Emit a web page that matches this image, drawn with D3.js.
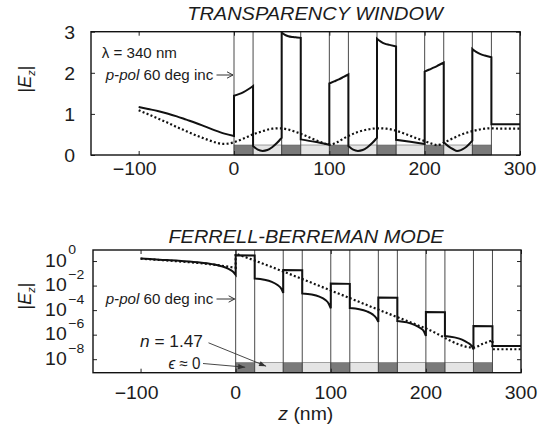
<!DOCTYPE html>
<html>
<head>
<meta charset="utf-8">
<script src="https://cdn.jsdelivr.net/npm/d3@7"></script>
<style>
  body { margin: 0; background: #fff; }
  svg { display: block; }
  text { font-family: "Liberation Sans", Arial, Helvetica, sans-serif; fill: #1c1c1c; }
</style>
</head>
<body>
<svg id="chart" width="538" height="430"></svg>
<script>
// ---- multilayer stack (nm): epsilon-near-zero films alternating with n = 1.47 spacers
const layerEdges = [0, 20, 50, 70, 100, 120, 150, 170, 200, 220, 250, 270];
const layerKinds = ["enz", "glass", "enz", "glass", "enz", "glass", "enz", "glass", "enz", "glass", "enz"];

// ---- axis ticks
const xTicks = [-100, 0, 100, 200, 300];
const xTickLabels = ["\u2212100", "0", "100", "200", "300"];
const twYTicks = [0, 1, 2, 3];
const fbYTicks = [1e0, 1e-2, 1e-4, 1e-6, 1e-8];
const fbYExponents = ["0", "\u22122", "\u22124", "\u22126", "\u22128"];

// ---- transparency window: |Ez| vs z, exact (solid) and effective medium (dotted)
const twSolid = [
  [-100, 1.17], [-90, 1.12], [-80, 1.07], [-70, 1.01], [-60, 0.94], [-50, 0.86], [-40, 0.78],
  [-30, 0.69], [-20, 0.60], [-10, 0.52], [0, 0.46],
  [0, 1.44], [5, 1.48], [10, 1.53], [15, 1.60], [20, 1.68],
  [20, 0.22], [25, 0.13], [30, 0.10], [35, 0.12], [40, 0.19], [45, 0.29], [50, 0.42],
  [50, 2.98], [53, 2.93], [57, 2.89], [62, 2.87], [66, 2.86], [70, 2.85],
  [70, 0.38], [85, 0.32], [100, 0.25],
  [100, 1.74], [105, 1.79], [110, 1.84], [115, 1.90], [120, 1.96],
  [120, 0.22], [125, 0.13], [130, 0.10], [135, 0.12], [140, 0.19], [145, 0.29], [150, 0.42],
  [150, 2.83], [154, 2.76], [158, 2.71], [163, 2.68], [170, 2.64],
  [170, 0.37], [185, 0.32], [200, 0.27],
  [200, 2.03], [205, 2.08], [210, 2.13], [215, 2.19], [220, 2.25],
  [220, 0.31], [225, 0.21], [230, 0.14], [234, 0.10], [238, 0.12], [242, 0.17], [246, 0.25], [250, 0.35],
  [250, 2.58], [254, 2.51], [258, 2.46], [263, 2.42], [270, 2.38],
  [270, 0.75], [300, 0.75]
];
const twDotted = [
  [-100, 1.09], [-90, 0.99], [-80, 0.89], [-70, 0.79], [-60, 0.68], [-50, 0.58], [-40, 0.48],
  [-30, 0.39], [-20, 0.31], [-12, 0.27], [-5, 0.28], [0, 0.31], [10, 0.40], [20, 0.50],
  [30, 0.58], [40, 0.64], [48, 0.65], [55, 0.63], [65, 0.56], [75, 0.47], [85, 0.37],
  [95, 0.28], [101, 0.25], [108, 0.31], [118, 0.44], [130, 0.56], [140, 0.62], [152, 0.65],
  [160, 0.64], [170, 0.59], [180, 0.51], [190, 0.42], [200, 0.34], [208, 0.27], [213, 0.24],
  [220, 0.30], [230, 0.41], [240, 0.51], [250, 0.58], [260, 0.63], [270, 0.65], [280, 0.64], [300, 0.64]
];

// ---- Ferrell-Berreman mode: |Ez| vs z on a log axis
const fbSolid = [
  [-100, 1.6], [-80, 1.3], [-60, 1.07], [-40, 0.79], [-25, 0.56], [-15, 0.38], [-8, 0.24], [-3, 0.14], [0, 0.076],
  [0, 2.95], [20, 2.8],
  [20, 0.037], [30, 0.030], [38, 0.020], [44, 0.011], [48, 5.6e-3], [50, 2.5e-3],
  [50, 0.19], [70, 0.18],
  [70, 2.3e-3], [80, 1.9e-3], [88, 1.26e-3], [94, 7.1e-4], [98, 3.2e-4], [100, 1.4e-4],
  [100, 0.0145], [120, 0.0138],
  [120, 1.5e-4], [130, 1.2e-4], [138, 7.9e-5], [144, 4.5e-5], [148, 2.2e-5], [150, 1.1e-5],
  [150, 1.07e-3], [170, 1.02e-3],
  [170, 1.3e-5], [180, 1.0e-5], [188, 6.3e-6], [194, 3.5e-6], [198, 1.8e-6], [200, 7.9e-7],
  [200, 7.1e-5], [220, 6.8e-5],
  [220, 7.9e-7], [230, 6.0e-7], [238, 4.0e-7], [244, 2.2e-7], [248, 1.26e-7], [250, 6.3e-8],
  [250, 5.0e-6], [270, 4.8e-6],
  [270, 1.2e-7], [300, 1.2e-7]
];
const fbDotted = [
  [-100, 1.55], [-80, 1.22], [-60, 0.94], [-40, 0.70], [-20, 0.47], [-10, 0.37], [0, 0.28],
  [0, 4.0], [20, 1.1], [50, 0.14], [100, 4.0e-3], [150, 1.1e-4], [200, 3.2e-6],
  [250, 8.9e-8], [260, 1.8e-7], [270, 3.5e-7],
  [270, 6.5e-8], [300, 6.5e-8]
];

// ---------------------------------------------------------------------------
const SX = 1.08;            // slight horizontal widening of all glyphs
const svg = d3.select("#chart");

const defs = svg.append("defs");
defs.append("marker").attr("id", "openHead").attr("viewBox", "-7 -5 8 10")
  .attr("markerWidth", 8).attr("markerHeight", 10).attr("markerUnits", "userSpaceOnUse")
  .attr("refX", 0).attr("refY", 0).attr("orient", "auto")
  .append("path").attr("d", "M-6,-3.2 L0,0 L-6,3.2").attr("fill", "none").attr("stroke", "#333").attr("stroke-width", 1);
defs.append("marker").attr("id", "solidHead").attr("viewBox", "-8 -4 9 8")
  .attr("markerWidth", 9).attr("markerHeight", 8).attr("markerUnits", "userSpaceOnUse")
  .attr("refX", 0).attr("refY", 0).attr("orient", "auto")
  .append("path").attr("d", "M-7,-2.6 L0,0 L-7,2.6 Z").attr("fill", "#333");

function addText(parent, x, y, opts) {
  const t = parent.append("text")
    .attr("transform", `translate(${x},${y}) scale(${opts.sx || SX},1)`)
    .attr("font-size", opts.size)
    .attr("text-anchor", opts.anchor || "start");
  if (opts.italic) t.attr("font-style", "italic");
  if (opts.family) t.attr("font-family", opts.family);
  (opts.parts || [{ s: opts.text }]).forEach(p => {
    const ts = t.append("tspan").text(p.s);
    if (p.italic) ts.attr("font-style", "italic");
    if (p.size) ts.attr("font-size", p.size);
    if (p.dy) ts.attr("dy", p.dy);
  });
  return t;
}

// piecewise path: a repeated z marks a jump at an interface (drawn vertically)
function tracePath(pairs, x, y) {
  const pieces = [];
  let cur = [];
  pairs.forEach((p, i) => {
    if (i > 0 && p[0] === pairs[i - 1][0]) { pieces.push(cur); cur = []; }
    cur.push(p);
  });
  pieces.push(cur);
  const gen = d3.line().x(d => x(d[0])).y(d => y(d[1])).curve(d3.curveMonotoneX);
  return pieces.map((pc, i) => { const s = gen(pc); return i ? s.replace(/^M/, "L") : s; }).join("");
}

function drawPanel(cfg) {
  const { box, x, y, yTicks, solid, dotted, id } = cfg;
  const g = svg.append("g");

  defs.append("clipPath").attr("id", id)
    .append("rect").attr("x", box.l).attr("y", box.t).attr("width", box.r - box.l).attr("height", box.b - box.t);

  // layer bands along the bottom of the frame
  const bandH = 10;
  g.append("g").selectAll("rect").data(layerKinds).join("rect")
    .attr("x", (d, i) => x(layerEdges[i]))
    .attr("y", box.b - bandH)
    .attr("width", (d, i) => x(layerEdges[i + 1]) - x(layerEdges[i]))
    .attr("height", bandH)
    .attr("fill", d => d === "enz" ? "#7a7a7a" : "#e4e4e4")
    .attr("stroke", "#666").attr("stroke-width", 0.6);

  // interfaces
  g.append("g").selectAll("line").data(layerEdges).join("line")
    .attr("x1", d => x(d)).attr("x2", d => x(d))
    .attr("y1", box.t).attr("y2", box.b)
    .attr("stroke", "#4a4a4a").attr("stroke-width", 1);

  const plot = g.append("g").attr("clip-path", `url(#${id})`);
  plot.append("path").attr("d", tracePath(dotted, x, y))
    .attr("fill", "none").attr("stroke", "#111").attr("stroke-width", 2.2)
    .attr("stroke-dasharray", "2,2.3");
  plot.append("path").attr("d", tracePath(solid, x, y))
    .attr("fill", "none").attr("stroke", "#111").attr("stroke-width", 2)
    .attr("stroke-linejoin", "miter");

  // inward ticks on all four sides
  const tickG = g.append("g");
  tickG.append("g").attr("transform", `translate(0,${box.b})`)
    .call(d3.axisBottom(x).tickValues(xTicks).tickSize(-4).tickFormat(""));
  tickG.append("g").attr("transform", `translate(0,${box.t})`)
    .call(d3.axisTop(x).tickValues(xTicks).tickSize(-4).tickFormat(""));
  tickG.append("g").attr("transform", `translate(${box.l},0)`)
    .call(d3.axisLeft(y).tickValues(yTicks).tickSize(-4).tickFormat(""));
  tickG.append("g").attr("transform", `translate(${box.r},0)`)
    .call(d3.axisRight(y).tickValues(yTicks).tickSize(-4).tickFormat(""));
  tickG.selectAll(".domain").remove();
  tickG.selectAll("text").remove();
  tickG.selectAll(".tick line").attr("stroke", "#222").attr("stroke-width", 1);

  // frame
  g.append("rect").attr("x", box.l).attr("y", box.t)
    .attr("width", box.r - box.l).attr("height", box.b - box.t)
    .attr("fill", "none").attr("stroke", "#111").attr("stroke-width", 1.4);

  // x tick labels
  xTicks.forEach((v, i) => {
    addText(svg, x(v) + (v < 0 ? -4 : 0), cfg.xLabelBase, { text: xTickLabels[i], size: 18, anchor: "middle" });
  });
  return g;
}

// ---- top panel: transparency window
const twBox = { l: 91, r: 520, t: 31.7, b: 155 };
const xTW = d3.scaleLinear().domain([-150, 300]).range([twBox.l, twBox.r]);
const yTW = d3.scaleLinear().domain([0, 3]).range([twBox.b, twBox.t]);
drawPanel({ id: "clipTW", box: twBox, x: xTW, y: yTW, yTicks: twYTicks, solid: twSolid, dotted: twDotted, xLabelBase: 175 });
twYTicks.forEach(v => addText(svg, 75, yTW(v) + 7.3, { text: String(v), size: 18, anchor: "end" }));

// ---- bottom panel: Ferrell-Berreman mode
const fbBox = { l: 93, r: 521, t: 250, b: 372.7 };
const xFB = d3.scaleLinear().domain([-150, 300]).range([fbBox.l, fbBox.r]);
const yFB = d3.scaleLog().domain([10 ** -9.1, 10 ** 0.9]).range([fbBox.b, fbBox.t]);
drawPanel({ id: "clipFB", box: fbBox, x: xFB, y: yFB, yTicks: fbYTicks, solid: fbSolid, dotted: fbDotted, xLabelBase: 399 });
fbYTicks.forEach((v, i) => {
  addText(svg, 66.7, yFB(v) + 5.8, { text: "10", size: 18, anchor: "end" });
  addText(svg, 68.3, yFB(v) - 6.6, { text: fbYExponents[i], size: 13, anchor: "start" });
});

// ---- titles
addText(svg, 315, 20, { text: "TRANSPARENCY WINDOW", size: 18.5, anchor: "middle", italic: true });
addText(svg, 306, 242.5, { text: "FERRELL-BERREMAN MODE", size: 18.5, anchor: "middle", italic: true });

// ---- axis titles
function yTitle(cx, cy) {
  const t = svg.append("text")
    .attr("transform", `translate(${cx},${cy}) rotate(-90)`)
    .attr("font-size", 18).attr("text-anchor", "middle");
  t.append("tspan").text("|");
  t.append("tspan").attr("font-style", "italic").text("E");
  t.append("tspan").attr("font-style", "italic").attr("font-size", 11).attr("dy", 4).text("z");
  t.append("tspan").attr("dy", -4).text("|");
}
yTitle(31, 79);
yTitle(31, 296);

addText(svg, 305.8, 419.5, { size: 18, anchor: "middle", parts: [{ s: "z", italic: true }, { s: " (nm)" }] });

// ---- annotations
addText(svg, 101.7, 58.3, { text: "\u03bb = 340 nm", size: 14 });

function incidenceNote(yBase, yArrow, x0) {
  addText(svg, 105.7, yBase, { size: 14, parts: [{ s: "p-pol", italic: true }, { s: " 60 deg inc" }] });
  svg.append("line").attr("x1", 216.5).attr("x2", x0 - 1).attr("y1", yArrow).attr("y2", yArrow)
    .attr("stroke", "#333").attr("stroke-width", 1).attr("marker-end", "url(#openHead)");
}
incidenceNote(80, 75, xTW(0));
incidenceNote(304, 299, xFB(0));

addText(svg, 140, 346.7, { size: 16, parts: [{ s: "n", italic: true }, { s: " = 1.47" }] });
svg.append("line").attr("x1", 208.5).attr("y1", 342.8).attr("x2", xFB(32)).attr("y2", fbBox.b - 6.5)
  .attr("stroke", "#333").attr("stroke-width", 0.9).attr("marker-end", "url(#solidHead)");

addText(svg, 200.5, 369, { size: 16, anchor: "end", family: "'DejaVu Serif', 'Liberation Serif', serif", sx: 0.95,
  parts: [{ s: "\u03f5", italic: true }, { s: " \u2248 0" }] });
svg.append("line").attr("x1", 203).attr("y1", 363.5).attr("x2", xFB(10)).attr("y2", fbBox.b - 5.5)
  .attr("stroke", "#333").attr("stroke-width", 0.9).attr("marker-end", "url(#solidHead)");
</script>
</body>
</html>
